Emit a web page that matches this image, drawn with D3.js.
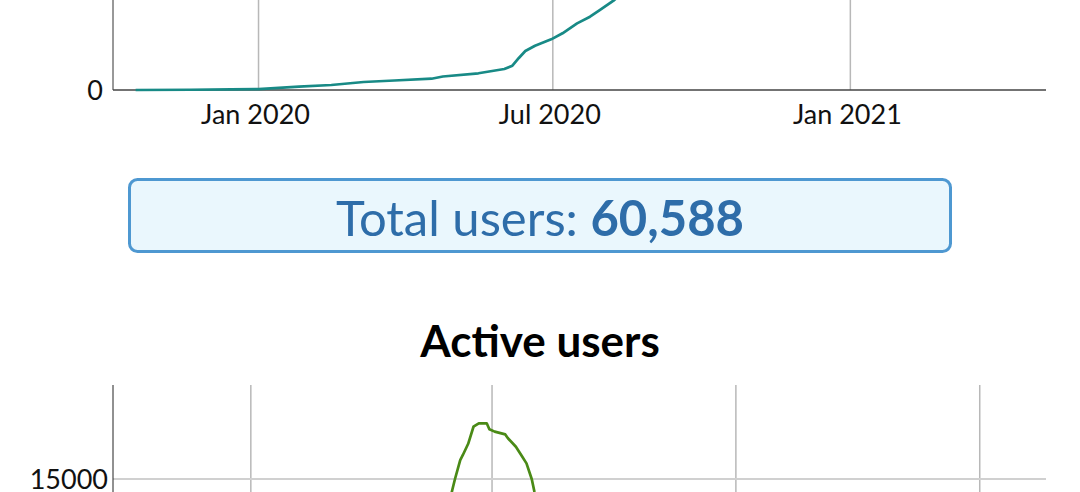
<!DOCTYPE html>
<html>
<head>
<meta charset="utf-8">
<script src="https://cdn.jsdelivr.net/npm/d3@7"></script>
<style>
  body { margin: 0; background: #fff; }
  svg { display: block; font-family: Lato, "Open Sans", sans-serif; }
</style>
</head>
<body>
<div id="page"></div>
<script>
// cumulative users (the top of this chart is scrolled out of view)
var totalDates = ["2019-10-17", "2019-11-20", "2019-12-15", "2020-01-01", "2020-01-26", "2020-02-15",
                  "2020-03-06", "2020-03-25", "2020-04-17", "2020-04-24", "2020-05-16", "2020-06-01",
                  "2020-06-06", "2020-06-10", "2020-06-14", "2020-06-20", "2020-06-30", "2020-07-07",
                  "2020-07-16", "2020-07-24", "2020-07-30", "2020-08-08", "2020-09-01", "2020-10-01",
                  "2020-11-01", "2020-12-01", "2021-01-01", "2021-02-01", "2021-03-01", "2021-04-01",
                  "2021-04-25"];
var totalValues = [0, 40, 100, 150, 540, 820,
                   1310, 1560, 1850, 2210, 2740, 3440,
                   3980, 5250, 6390, 7260, 8310, 9300,
                   10930, 12020, 13110, 14750, 20500, 28000,
                   35000, 41000, 46500, 51000, 55000, 58500,
                   60588];
var totalUsers = 60588;
var totalRange = ["2019-10-03", "2021-05-02"];
var totalTicks = [0, 20000, 40000, 60000];

// active users
var activeDates = ["2020-02-09", "2020-03-01", "2020-04-01", "2020-05-01", "2020-06-01", "2020-06-11",
                   "2020-06-16", "2020-06-17", "2020-06-19", "2020-06-20", "2020-06-22", "2020-06-24",
                   "2020-06-26", "2020-06-29", "2020-06-30", "2020-07-02", "2020-07-06", "2020-07-07",
                   "2020-07-10", "2020-07-12", "2020-07-14", "2020-07-16", "2020-07-17", "2020-07-26",
                   "2020-08-15", "2020-09-15", "2020-10-15", "2020-11-15", "2020-12-15", "2021-01-20"];
var activeValues = [300, 900, 1800, 3200, 7000, 11500,
                    14440, 14990, 15970, 16230, 16800, 17670,
                    17845, 17845, 17540, 17420, 17280, 17080,
                    16650, 16230, 15800, 14990, 14350, 10000,
                    6000, 4000, 3000, 2500, 2200, 2000];
var activeRange = ["2020-02-09", "2021-01-26"];
var activeMax = 19800;
var activeTicks = [0, 5000, 10000, 15000];

var width = 1080, height = 492;
var parse = d3.timeParse("%Y-%m-%d");
var fmtMonth = d3.timeFormat("%b %Y");

var svg = d3.select("#page").append("svg").attr("width", width).attr("height", height);

var left = 113, right = 1046;

// only keep labels that are inside the visible part of the page
function inView(y) { return y > 10 && y < height - 5; }

// ---------- top chart ----------
var x1 = d3.scaleTime().domain(totalRange.map(parse)).range([left, right]);
var y1 = d3.scaleLinear().domain([0, totalUsers * 1.05]).range([90, -298]);

var topChart = svg.append("g");

topChart.selectAll(".hgrid").data(totalTicks.filter(function(d){ return d > 0; }))
    .enter().append("line")
    .attr("x1", left).attr("x2", right)
    .attr("y1", function(d){ return y1(d); }).attr("y2", function(d){ return y1(d); })
    .attr("stroke", "#cccccc").attr("stroke-width", 1.5);

topChart.selectAll(".vgrid").data(x1.ticks(d3.timeMonth.every(6)))
    .enter().append("line")
    .attr("x1", function(d){ return x1(d); }).attr("x2", function(d){ return x1(d); })
    .attr("y1", y1.range()[1]).attr("y2", y1(0))
    .attr("stroke", "#b8b8b8").attr("stroke-width", 1.5);

topChart.selectAll(".xlab").data(x1.ticks(d3.timeMonth.every(6)))
    .enter().append("text")
    .attr("x", function(d){ return x1(d) - 3; })
    .attr("y", y1(0) + 34)
    .attr("text-anchor", "middle")
    .attr("fill", "#111")
    .style("font-size", "27px")
    .text(function(d){ return fmtMonth(d); });

topChart.selectAll(".ylab").data(totalTicks.filter(function(d){ return inView(y1(d)); }))
    .enter().append("text")
    .attr("x", left - 10)
    .attr("y", function(d){ return y1(d) + 10; })
    .attr("text-anchor", "end")
    .attr("fill", "#111")
    .style("font-size", "27px")
    .text(function(d){ return d; });

// y axis and x axis lines
topChart.append("line").attr("x1", left).attr("x2", left).attr("y1", y1.range()[1]).attr("y2", y1(0))
    .attr("stroke", "#333").attr("stroke-width", 1);
topChart.append("line").attr("x1", left).attr("x2", right).attr("y1", y1(0)).attr("y2", y1(0))
    .attr("stroke", "#444").attr("stroke-width", 1.5);

var line1 = d3.line()
    .x(function(d, i){ return x1(parse(totalDates[i])); })
    .y(function(d){ return y1(d); });

topChart.append("path")
    .attr("d", line1(totalValues))
    .attr("fill", "none")
    .attr("stroke", "#188a86")
    .attr("stroke-width", 2.7)
    .attr("stroke-linejoin", "round");

// ---------- total users box ----------
svg.append("rect")
    .attr("x", 129.5).attr("y", 179.5)
    .attr("width", 821).attr("height", 72)
    .attr("rx", 8)
    .attr("fill", "#eaf7fd")
    .attr("stroke", "#4e98d1")
    .attr("stroke-width", 3);

var totalText = svg.append("text")
    .attr("x", 540).attr("y", 236)
    .attr("text-anchor", "middle")
    .attr("fill", "#2e6da9")
    .style("font-size", "49px");
totalText.append("tspan").text("Total users: ");
totalText.append("tspan").style("font-weight", "bold").text(d3.format(",")(totalUsers));

// ---------- active users ----------
svg.append("text")
    .attr("x", 540).attr("y", 357)
    .attr("text-anchor", "middle")
    .attr("fill", "#000")
    .style("font-size", "44px")
    .style("font-weight", "bold")
    .text("Active users");

var x2 = d3.scaleTime().domain(activeRange.map(parse)).range([left, right]);
var y2 = d3.scaleLinear().domain([0, activeMax]).range([773, 385]);

var bottomChart = svg.append("g");

bottomChart.selectAll(".vgrid").data(x2.ticks(d3.timeMonth.every(3)))
    .enter().append("line")
    .attr("x1", function(d){ return x2(d); }).attr("x2", function(d){ return x2(d); })
    .attr("y1", y2.range()[1]).attr("y2", y2(0))
    .attr("stroke", "#b8b8b8").attr("stroke-width", 1.5);

bottomChart.selectAll(".hgrid").data(activeTicks.filter(function(d){ return d > 0; }))
    .enter().append("line")
    .attr("x1", left).attr("x2", right)
    .attr("y1", function(d){ return y2(d); }).attr("y2", function(d){ return y2(d); })
    .attr("stroke", "#d0d0d0").attr("stroke-width", 2);

bottomChart.selectAll(".ylab").data(activeTicks.filter(function(d){ return inView(y2(d)); }))
    .enter().append("text")
    .attr("x", left - 5)
    .attr("y", function(d){ return y2(d) + 10; })
    .attr("text-anchor", "end")
    .attr("fill", "#111")
    .style("font-size", "27px")
    .text(function(d){ return d; });

bottomChart.append("line").attr("x1", left).attr("x2", left).attr("y1", y2.range()[1]).attr("y2", y2(0))
    .attr("stroke", "#222").attr("stroke-width", 1);

var line2 = d3.line()
    .x(function(d, i){ return x2(parse(activeDates[i])); })
    .y(function(d){ return y2(d); });

bottomChart.append("path")
    .attr("d", line2(activeValues))
    .attr("fill", "none")
    .attr("stroke", "#4a8a16")
    .attr("stroke-width", 2.7)
    .attr("stroke-linejoin", "round");
</script>
</body>
</html>
